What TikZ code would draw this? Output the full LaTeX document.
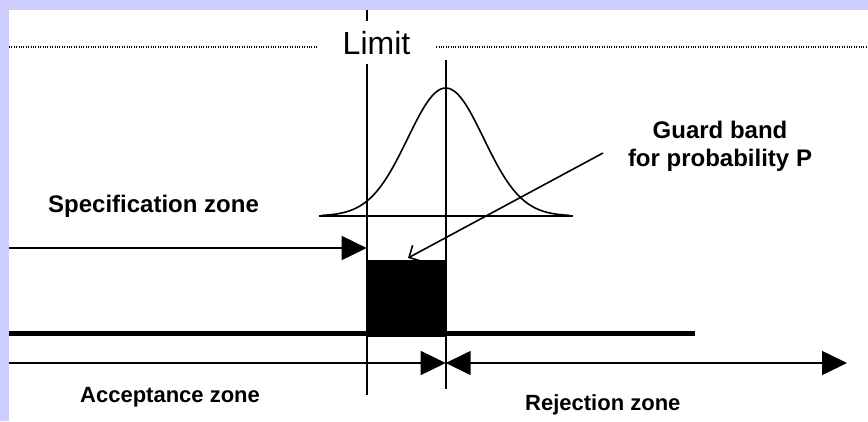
\documentclass[tikz,border=0pt]{standalone}
\usepackage{fontspec}
\setmainfont{Liberation Sans}
\usetikzlibrary{arrows.meta,positioning,calc}
\definecolor{frameLav}{HTML}{CCCCFF}

\begin{document}
\begin{tikzpicture}[x=1bp, y=-1bp,
    thinline/.style={line width=1.6bp},
    dotline/.style={line width=1.1bp, dash pattern=on 1bp off 1.4bp},
    arrow/.style={thinline, -{Triangle[length=25bp, width=24bp]}},
    dblarrow/.style={thinline, {Triangle[length=25bp, width=24bp]}-{Triangle[length=25bp, width=24bp]}},
    zonelabel/.style={font=\fontsize{22bp}{28bp}\selectfont\bfseries, inner sep=0pt},
    biglabel/.style={font=\fontsize{24bp}{28bp}\selectfont\bfseries, inner sep=0pt},
]
    \useasboundingbox (0,0) rectangle (868,421);
    \fill[frameLav] (0,0) rectangle (868,421);
    \fill[white] (9,10) rectangle (868,421);

    \coordinate (limtop) at (366.7,10);
    \coordinate (limbot) at (366.7,395);
    \coordinate (meantop) at (445.7,60);
    \coordinate (meanbot) at (445.7,389);
    \coordinate (specstart) at (9,248);
    \coordinate (zonestart) at (9,363);
    \coordinate (rejend) at (847,363);
    \coordinate (guardfrom) at (603,153);

    \draw[dotline] (9,47) -- (868,47);
    \draw[thinline] (limtop) -- (limbot);
    \draw[thinline] (meantop) -- (meanbot);
    \node[font=\fontsize{32bp}{36bp}\selectfont, fill=white, inner xsep=25bp,
          inner ysep=10bp, anchor=base] (limit) at (376.5,54) {Limit};

    \draw[thinline] plot[domain=-124:124, samples=100]
        ({445.7+\x}, {216-128*exp(-0.5*(\x/38)^2)});
    \draw[line width=1.2bp] (319,216) -- (573,216);

    \node[fill=black, inner sep=0pt, minimum width=79bp, minimum height=77bp,
          anchor=north west] (guardbox) at (366.7,259.5) {};
    \draw[line width=5bp] (9,333) -- (695,333);

    \draw[arrow] (specstart) -- (limtop |- specstart);
    \draw[arrow] (zonestart) -- (meantop |- zonestart);
    \draw[dblarrow] (meantop |- rejend) -- (rejend);
    \draw[thinline, -{Straight Barb[length=9bp, width=18bp]}] (guardfrom) -- (408,258);

    \node[biglabel, anchor=base west] (speclbl) at (48,212) {Specification zone};
    \node[biglabel, align=center, anchor=base] (guardlbl) at (720,166)
        {Guard band\\for probability P};
    \node[zonelabel, anchor=base west] (acclbl) at (80,402) {Acceptance zone};
    \node[zonelabel, anchor=base west] (rejlbl) at (525,410) {Rejection zone};
\end{tikzpicture}
\end{document}
